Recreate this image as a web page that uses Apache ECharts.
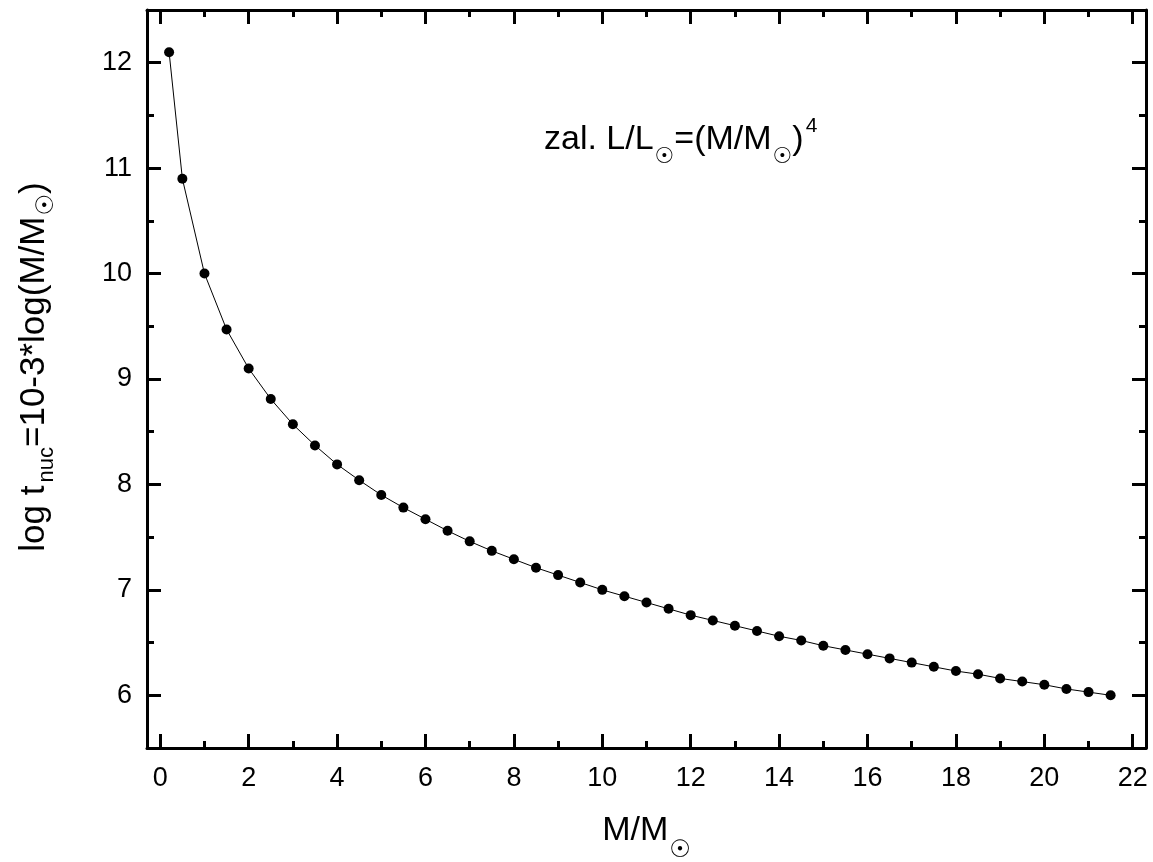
<!DOCTYPE html>
<html>
<head>
<meta charset="utf-8">
<script src="https://cdn.jsdelivr.net/npm/echarts@6/dist/echarts.min.js"></script>
<style>
html,body{margin:0;padding:0;background:#fff;}
#chart{width:1153px;height:862px;}
</style>
</head>
<body>
<div id="chart"></div>
<script>
// Data
const massValues = [0.2, 0.5, 1, 1.5, 2, 2.5, 3, 3.5, 4, 4.5, 5, 5.5, 6, 6.5, 7, 7.5, 8, 8.5, 9, 9.5, 10,
  10.5, 11, 11.5, 12, 12.5, 13, 13.5, 14, 14.5, 15, 15.5, 16, 16.5, 17, 17.5, 18, 18.5, 19, 19.5, 20, 20.5, 21, 21.5];
const logTValues = [12.10, 10.90, 10.00, 9.47, 9.10, 8.81, 8.57, 8.37, 8.19, 8.04, 7.90, 7.78, 7.67, 7.56, 7.46, 7.37, 7.29, 7.21, 7.14, 7.07, 7.00,
  6.94, 6.88, 6.82, 6.76, 6.71, 6.66, 6.61, 6.56, 6.52, 6.47, 6.43, 6.39, 6.35, 6.31, 6.27, 6.23, 6.20, 6.16, 6.13, 6.10, 6.06, 6.03, 6.00];
const xMajorTicks = [0, 2, 4, 6, 8, 10, 12, 14, 16, 18, 20, 22];
const xMinorTicks = [1, 3, 5, 7, 9, 11, 13, 15, 17, 19, 21];
const yMajorTicks = [6, 7, 8, 9, 10, 11, 12];
const yMinorTicks = [6.5, 7.5, 8.5, 9.5, 10.5, 11.5];
const xRange = [-0.3, 22.3];
const yRange = [5.5, 12.5];

const FONT = 'Liberation Sans, Arial, sans-serif';
const chart = echarts.init(document.getElementById('chart'));

function xAxisDef(pos, ticks, len, showLine, showLabels) {
  return {
    type: 'value', position: pos, min: xRange[0], max: xRange[1],
    axisLine: { show: showLine, onZero: false, lineStyle: { color: '#000', width: 3 } },
    axisTick: { show: true, inside: true, length: len, customValues: ticks, lineStyle: { color: '#000', width: 3 } },
    axisLabel: showLabels ? { show: true, customValues: ticks, margin: 17, color: '#000', fontSize: 27, fontFamily: FONT } : { show: false },
    splitLine: { show: false }
  };
}
function yAxisDef(pos, ticks, len, showLine, showLabels) {
  return {
    type: 'value', position: pos, min: yRange[0], max: yRange[1],
    axisLine: { show: showLine, onZero: false, lineStyle: { color: '#000', width: 3 } },
    axisTick: { show: true, inside: true, length: len, customValues: ticks, lineStyle: { color: '#000', width: 3 } },
    axisLabel: showLabels ? { show: true, customValues: ticks, margin: 15, color: '#000', fontSize: 27, fontFamily: FONT } : { show: false },
    splitLine: { show: false }
  };
}

const xMain = xAxisDef('bottom', xMajorTicks, 14, true, true);
xMain.name = '{m|M/M}{s|☉}';
xMain.nameLocation = 'middle';
xMain.nameGap = 51;
xMain.nameTextStyle = {
  rich: {
    m: { fontSize: 34, fontFamily: FONT, color: '#000' },
    s: { fontSize: 24, fontFamily: 'DejaVu Sans', color: '#000', padding: [40, 0, 0, 1] }
  }
};
const yMain = yAxisDef('left', yMajorTicks, 14, true, true);
yMain.name = '{m|log t}{s|nuc}{m|=10-3*log(M/M}{c|☉}{m|)}';
yMain.nameLocation = 'middle';
yMain.nameGap = 88;
yMain.nameRotate = 90;
yMain.nameTextStyle = {
  padding: [0, 0, 0, 24],
  rich: {
    m: { fontSize: 35, fontFamily: FONT, color: '#000' },
    s: { fontSize: 22, fontFamily: FONT, color: '#000', padding: [26, 0, 0, 3] },
    c: { fontSize: 24, fontFamily: 'DejaVu Sans', color: '#000', padding: [26, 0, 0, 1] }
  }
};

const option = {
  backgroundColor: '#fff',
  animation: false,
  grid: { left: 147, right: 7, top: 10, bottom: 114, containLabel: false, outerBoundsMode: 'none' },
  xAxis: [
    xMain,
    xAxisDef('bottom', xMinorTicks, 7, false, false),
    xAxisDef('top', xMajorTicks, 14, true, false),
    xAxisDef('top', xMinorTicks, 7, false, false)
  ],
  yAxis: [
    yMain,
    yAxisDef('left', yMinorTicks, 7, false, false),
    yAxisDef('right', yMajorTicks, 14, true, false),
    yAxisDef('right', yMinorTicks, 7, false, false)
  ],
  graphic: [{
    type: 'text', left: 544, top: 116,
    style: {
      text: '{m|zal. L/L}{c|☉}{m|=(M/M}{c|☉}{m|)}{p|4}',
      rich: {
        m: { fontSize: 34, fontFamily: FONT, fill: '#000' },
        c: { fontSize: 22, fontFamily: 'DejaVu Sans', fill: '#000', padding: [36, 0, 0, 1] },
        p: { fontSize: 21, fontFamily: FONT, fill: '#000', padding: [0, 0, 26, 2] }
      }
    }
  }],
  series: [{
    type: 'line',
    xAxisIndex: 0, yAxisIndex: 0,
    data: massValues.map((m, i) => [m, logTValues[i]]),
    symbol: 'circle', symbolSize: 10,
    itemStyle: { color: '#000' },
    lineStyle: { color: '#000', width: 1 },
    smooth: false
  }]
};
chart.setOption(option);
</script>
</body>
</html>
